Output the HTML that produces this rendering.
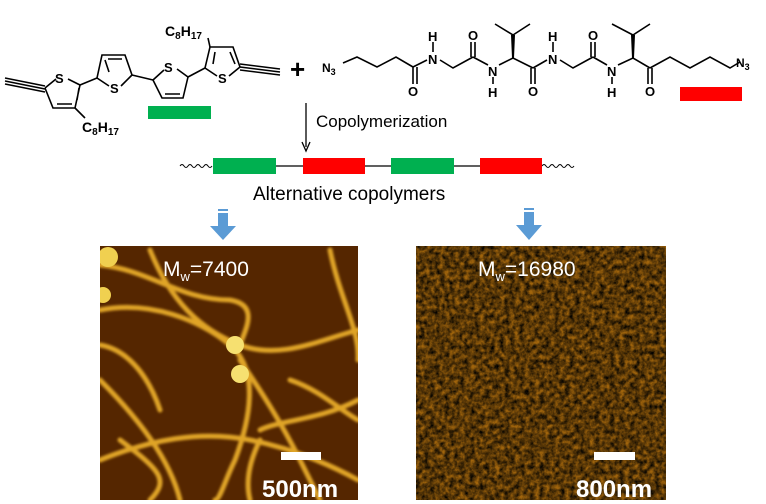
<!DOCTYPE html>
<html><head><meta charset="utf-8"><style>
html,body{margin:0;padding:0;background:#fff;width:766px;height:504px;overflow:hidden}
text{font-family:"Liberation Sans",sans-serif}
</style></head><body>
<svg width="766" height="504" viewBox="0 0 766 504" xmlns="http://www.w3.org/2000/svg">
<defs>
<filter id="noise" x="0" y="0" width="100%" height="100%">
<feTurbulence type="fractalNoise" baseFrequency="0.2" numOctaves="3" seed="4"/>
<feColorMatrix type="matrix" values="0 0 0 0 0  0 0 0 0 0  0 0 0 0 0  1.5 0 0 0 -0.3"/>
</filter>
<filter id="blur"><feGaussianBlur stdDeviation="1.2"/></filter>
<clipPath id="cl"><rect x="100" y="246" width="258" height="254"/></clipPath>
<clipPath id="cr"><rect x="416" y="246" width="250" height="254"/></clipPath>
</defs>
<g stroke="#000" stroke-width="1.6" fill="none">
<path d="M5,78 L45,86 M5,81 L45,89 M5,84 L45,92"/>
<path d="M45,88 L53,108 L75,108 L80,85 M57,104 L72,104 M77,100 L79,88 M45,88 L56,79 M68,79 L80,85"/>
<path d="M75,108 L85,118"/>
<path d="M80,85 L97,78"/>
<path d="M97,78 L102,55 L125,55 L132,75 M105,60 L109,72 M108,59 L122,59 M97,78 L109,86 M121,86 L132,75"/>
<path d="M132,75 L153,80"/>
<path d="M153,80 L162,98 L183,98 L188,77 M165,94 L180,94 M153,80 L164,70 M177,69 L188,77"/>
<path d="M188,77 L205,68"/>
<path d="M205,68 L210,47 L233,47 L240,67 M213,64 L215,52 M230,52 L235,64 M205,68 L217,76 M229,76 L240,67"/>
<path d="M210,47 L208,38"/>
<path d="M240,67 L280,72 M240,64 L280,69 M240,70 L280,75"/>
<path d="M343,63 L357,57 L377,67 L396,57 L413,67 M413,67 L413,84 M417,67 L417,84 M413,67 L427,60"/>
<path d="M440,60 L453,68 L473,57 M471,57 L471,42 M475,57 L475,42 M473,57 L488,65"/>
<path d="M433,52 L433,42"/>
<path d="M499,65 L513,58 L533,68 M531,68 L531,84 M535,68 L535,84 M533,68 L547,60"/>
<path d="M493,77 L493,84"/>
<path d="M513,58 L513,35 L495,24 M513,35 L530,24"/>
<path d="M560,60 L573,68 L593,57 M591,57 L591,42 M595,57 L595,42 M593,57 L607,65"/>
<path d="M553,52 L553,42"/>
<path d="M618,65 L633,58 L650,68 M648,68 L648,84 M652,68 L652,84 M650,68 L670,57 L690,68 L710,57 L730,68 L740,62"/>
<path d="M612,77 L612,84"/>
<path d="M633,58 L633,35 L612,24 M633,35 L650,24"/>
</g>
<path d="M511,35 L515,35 L514,58 L512,58Z M631,35 L635,35 L634,58 L632,58Z" fill="#000"/>
<g font-weight="bold" font-size="13" fill="#000">
<text x="55" y="83">S</text><text x="110" y="93">S</text><text x="164" y="72">S</text><text x="218" y="83">S</text>
<text x="82" y="132" font-size="14">C<tspan font-size="10" dy="3">8</tspan><tspan dy="-3">H</tspan><tspan font-size="10" dy="3">17</tspan></text>
<text x="165" y="36" font-size="14">C<tspan font-size="10" dy="3">8</tspan><tspan dy="-3">H</tspan><tspan font-size="10" dy="3">17</tspan></text>
<text x="322" y="72" font-size="12">N<tspan font-size="9" dy="3">3</tspan></text>
<text x="408" y="96">O</text><text x="428" y="64">N</text><text x="428" y="41">H</text>
<text x="468" y="40">O</text><text x="488" y="76">N</text><text x="488" y="97">H</text>
<text x="528" y="96">O</text><text x="548" y="64">N</text><text x="548" y="41">H</text>
<text x="588" y="40">O</text><text x="607" y="76">N</text><text x="607" y="97">H</text>
<text x="645" y="96">O</text>
<text x="736" y="67" font-size="12">N<tspan font-size="9" dy="3">3</tspan></text>
</g>
<text x="290" y="78" font-size="26" font-weight="bold">+</text>
<rect x="148" y="106" width="63" height="13" fill="#00b050"/>
<rect x="680" y="87" width="62" height="14" fill="#ff0000"/>
<path d="M306,103 L306,147" stroke="#000" stroke-width="1.3"/>
<path d="M302,142 L306,151 L310,142" stroke="#000" stroke-width="1.3" fill="none"/>
<text x="316" y="127" font-size="17">Copolymerization</text>
<path d="M180,166 q2,-3 4,0 t4,0 t4,0 t4,0 t4,0 t4,0 t4,0 t4,0 M542,166 q2,-3 4,0 t4,0 t4,0 t4,0 t4,0 t4,0 t4,0 t4,0" stroke="#000" fill="none"/>
<path d="M276,166 H303 M365,166 H391 M454,166 H480" stroke="#000" stroke-width="1.2"/>
<rect x="213" y="158" width="63" height="16" fill="#00b050"/>
<rect x="303" y="158" width="62" height="16" fill="#ff0000"/>
<rect x="391" y="158" width="63" height="16" fill="#00b050"/>
<rect x="480" y="158" width="62" height="16" fill="#ff0000"/>
<text x="253" y="200" font-size="19">Alternative copolymers</text>
<g fill="#5b9bd5">
<rect x="218" y="209" width="10" height="2"/><rect x="218" y="213" width="10" height="13"/>
<path d="M210,226 L236,226 L223,240Z"/>
<rect x="524" y="208" width="10" height="2"/><rect x="524" y="212" width="10" height="13"/>
<path d="M516,225 L542,225 L529,240Z"/>
</g>
<g clip-path="url(#cl)">
<rect x="100" y="246" width="258" height="254" fill="#552600"/>
<g stroke="#e0a428" stroke-width="5" fill="none" filter="url(#blur)" stroke-linecap="round">
<path d="M100,310 C150,300 200,320 230,345 C260,370 250,420 235,460 C225,480 220,500 215,500"/>
<path d="M150,250 C170,300 200,330 240,345 C280,360 320,340 358,330"/>
<path d="M100,265 C150,270 180,300 230,300 C260,305 245,330 240,345"/>
<path d="M240,360 C260,390 280,420 300,460 C310,480 320,500 320,500"/>
<path d="M100,380 C140,420 170,460 180,500"/>
<path d="M100,460 C150,440 200,430 250,440 C300,450 340,470 358,480"/>
<path d="M358,400 C320,420 280,420 260,430"/>
<path d="M330,250 C340,300 360,330 358,360"/>
<path d="M120,440 C160,470 170,480 150,500"/>
<path d="M260,440 C250,460 245,480 250,500"/>
<path d="M100,345 C130,350 150,380 160,410"/>
<path d="M290,380 C320,390 340,410 358,420"/>
</g>
<circle cx="235" cy="345" r="9" fill="#f6e070"/>
<circle cx="240" cy="374" r="9" fill="#f6e070"/>
<circle cx="108" cy="257" r="10" fill="#f0d050"/>
<circle cx="103" cy="295" r="8" fill="#f0d050"/>
</g>
<g clip-path="url(#cr)">
<rect x="416" y="246" width="250" height="254" fill="#a0640c"/>
<rect x="416" y="246" width="250" height="254" fill="#f2c450" filter="url(#noise)"/>
</g>
<g fill="#fff">
<text x="163" y="276" font-size="21">M<tspan font-size="13" dy="5">w</tspan><tspan dy="-5">=7400</tspan></text>
<text x="478" y="276" font-size="21">M<tspan font-size="13" dy="5">w</tspan><tspan dy="-5">=16980</tspan></text>
<rect x="281" y="452" width="40" height="8"/>
<rect x="594" y="452" width="41" height="8"/>
<text x="262" y="497" font-size="24" font-weight="bold">500nm</text>
<text x="576" y="497" font-size="24" font-weight="bold">800nm</text>
</g>
</svg>
</body></html>
